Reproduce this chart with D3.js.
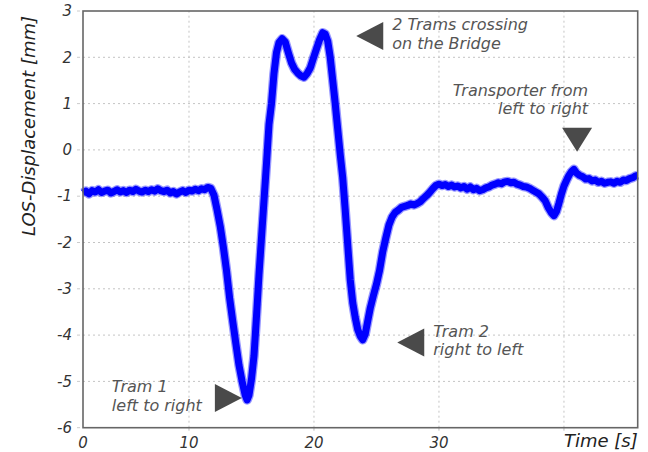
<!DOCTYPE html>
<html>
<head>
<meta charset="utf-8">
<script src="https://cdn.jsdelivr.net/npm/d3@7"></script>
<style>
  body { margin: 0; background: #fff; }
  text { font-family: "DejaVu Sans", sans-serif; font-style: italic; }
</style>
</head>
<body>
<svg width="648" height="452"></svg>
<script>
// measured signal (LOS displacement vs time)
var time = [1.52, 1.75, 2.0, 2.25, 2.5, 2.75, 3.0, 3.25, 3.5, 3.75, 4.0, 4.25, 4.5, 4.75, 5.0, 5.25, 5.5, 5.75,
    6.0, 6.25, 6.5, 6.75, 7.0, 7.25, 7.5, 7.75, 8.0, 8.25, 8.5, 8.75, 9.0, 9.25, 9.5, 9.75, 10.0, 10.25, 10.5,
    10.75, 11.0, 11.25, 11.5, 11.75, 12.0, 12.25, 12.5, 12.75, 13.0, 13.25, 13.5, 13.75, 14.0, 14.25, 14.5,
    14.65, 14.8, 15.0, 15.2, 15.4, 15.6, 15.8, 16.0, 16.2, 16.4, 16.6, 16.8, 17.0, 17.2, 17.45, 17.7, 17.95,
    18.2, 18.45, 18.7, 18.95, 19.2, 19.45, 19.7, 19.95, 20.2, 20.45, 20.7, 20.9, 21.1, 21.3, 21.5, 21.7, 21.9,
    22.1, 22.3, 22.5, 22.7, 22.9, 23.1, 23.3, 23.5, 23.7, 23.9, 24.1, 24.3, 24.5, 24.75, 25.0, 25.25, 25.5,
    25.75, 26.0, 26.25, 26.5, 26.75, 27.0, 27.25, 27.5, 27.75, 28.0, 28.25, 28.5, 28.75, 29.0, 29.25, 29.5,
    29.75, 30.0, 30.25, 30.5, 30.75, 31.0, 31.25, 31.5, 31.75, 32.0, 32.25, 32.5, 32.75, 33.0, 33.25, 33.5,
    33.75, 34.0, 34.25, 34.5, 34.75, 35.0, 35.25, 35.5, 35.75, 36.0, 36.25, 36.5, 36.75, 37.0, 37.25, 37.5,
    37.75, 38.0, 38.25, 38.5, 38.75, 39.0, 39.2, 39.4, 39.6, 39.8, 40.0, 40.2, 40.4, 40.6, 40.8, 41.0, 41.25,
    41.5, 41.75, 42.0, 42.25, 42.5, 42.75, 43.0, 43.25, 43.5, 43.75, 44.0, 44.25, 44.5, 44.75, 45.0, 45.25,
    45.5, 45.75, 45.9];
var displacement = [-0.93, -0.89, -0.95, -0.88, -0.91, -0.86, -0.92, -0.89, -0.87, -0.93, -0.9, -0.86, -0.91,
    -0.88, -0.92, -0.87, -0.9, -0.85, -0.89, -0.91, -0.87, -0.9, -0.86, -0.89, -0.84, -0.88, -0.9, -0.87, -0.93,
    -0.9, -0.95, -0.91, -0.88, -0.92, -0.87, -0.89, -0.85, -0.88, -0.84, -0.86, -0.81, -0.83, -0.98, -1.3,
    -1.65, -2.1, -2.6, -3.2, -3.7, -4.18, -4.65, -5.0, -5.3, -5.4, -5.3, -4.95, -4.45, -3.6, -2.7, -1.9, -1.1,
    -0.3, 0.55, 1.0, 1.65, 2.1, 2.32, 2.4, 2.33, 2.1, 1.88, 1.74, 1.66, 1.6, 1.57, 1.65, 1.77, 1.98, 2.18, 2.38,
    2.53, 2.5, 2.35, 2.0, 1.5, 1.0, 0.45, -0.1, -0.6, -1.3, -2.05, -2.8, -3.3, -3.62, -3.88, -4.02, -4.1, -3.98,
    -3.7, -3.42, -3.15, -2.9, -2.6, -2.2, -1.9, -1.62, -1.45, -1.35, -1.3, -1.24, -1.22, -1.2, -1.17, -1.19,
    -1.16, -1.12, -1.05, -0.99, -0.92, -0.84, -0.77, -0.74, -0.77, -0.75, -0.79, -0.76, -0.8, -0.78, -0.82,
    -0.79, -0.85, -0.8, -0.86, -0.83, -0.88, -0.86, -0.82, -0.8, -0.76, -0.74, -0.71, -0.73, -0.69, -0.68,
    -0.71, -0.7, -0.74, -0.76, -0.79, -0.8, -0.83, -0.87, -0.91, -0.95, -1.02, -1.1, -1.25, -1.36, -1.42,
    -1.33, -1.15, -0.95, -0.78, -0.66, -0.55, -0.47, -0.42, -0.5, -0.55, -0.58, -0.63, -0.62, -0.67, -0.65,
    -0.7, -0.68, -0.72, -0.7, -0.69, -0.72, -0.68, -0.7, -0.65, -0.66, -0.62, -0.6, -0.56, -0.55];

var xDomain = [1.52, 45.9];
var yDomain = [-6, 3];
var xGrid = [10, 20, 30, 40];
var xLabelValues = [1.52, 10, 20, 30];
var xLabelText = ["0", "10", "20", "30"];
var yTicks = [-6, -5, -4, -3, -2, -1, 0, 1, 2, 3];

// annotations: tip of the arrow in data units
var annTime = [14.23, 26.66, 23.38, 41.05];
var annValue = [-5.36, -4.16, 2.46, -0.04];
var annDir = ["right", "left", "left", "down"];
var annText = [["Tram 1", "left to right"], ["Tram 2", "right to left"],
    ["2 Trams crossing", "on the Bridge"], ["Transporter from", "left to right"]];

var svg = d3.select("svg"),
    margin = {top: 11, right: 10.3, bottom: 24.3, left: 83},
    width = +svg.attr("width") - margin.left - margin.right,
    height = +svg.attr("height") - margin.top - margin.bottom;

var x = d3.scaleLinear().domain(xDomain).range([margin.left, margin.left + width]);
var y = d3.scaleLinear().domain(yDomain).range([margin.top + height, margin.top]);

// grid
svg.append("g").selectAll("line").data(xGrid).enter().append("line")
    .attr("x1", function(d) { return x(d); }).attr("x2", function(d) { return x(d); })
    .attr("y1", y(yDomain[0])).attr("y2", y(yDomain[1]))
    .attr("stroke", "#c4c4c4").attr("stroke-dasharray", "2,3");
svg.append("g").selectAll("line").data(yTicks.slice(1, -1)).enter().append("line")
    .attr("y1", function(d) { return y(d); }).attr("y2", function(d) { return y(d); })
    .attr("x1", x(xDomain[0])).attr("x2", x(xDomain[1]))
    .attr("stroke", "#c4c4c4").attr("stroke-dasharray", "2,3");

// small ticks
svg.append("g").selectAll("line").data(yTicks).enter().append("line")
    .attr("x1", x(xDomain[0]) - 6).attr("x2", x(xDomain[0]) - 3)
    .attr("y1", function(d) { return y(d); }).attr("y2", function(d) { return y(d); })
    .attr("stroke", "#ccc");
svg.append("g").selectAll("line").data(xGrid).enter().append("line")
    .attr("x1", function(d) { return x(d); }).attr("x2", function(d) { return x(d); })
    .attr("y1", y(yDomain[0])).attr("y2", y(yDomain[0]) + 3)
    .attr("stroke", "#bbb");

// the signal, soft edge underneath a solid core
var pts = time.map(function(t, i) { return [t, displacement[i]]; });
var line = d3.line().x(function(d) { return x(d[0]); }).y(function(d) { return y(d[1]); });
svg.append("path").datum(pts).attr("d", line)
    .attr("fill", "none").attr("stroke", "#1a1aff").attr("stroke-opacity", 0.45)
    .attr("stroke-width", 9.5).attr("stroke-linejoin", "round");
svg.append("path").datum(pts).attr("d", line)
    .attr("fill", "none").attr("stroke", "#0000ff")
    .attr("stroke-width", 7).attr("stroke-linejoin", "round");

// frame
svg.append("rect")
    .attr("x", x(xDomain[0])).attr("y", y(yDomain[1]))
    .attr("width", width).attr("height", height)
    .attr("fill", "none").attr("stroke", "#666").attr("stroke-width", 1.6);

// tick labels
svg.append("g").selectAll("text").data(yTicks).enter().append("text")
    .attr("x", x(xDomain[0]) - 11).attr("y", function(d) { return y(d); })
    .attr("dy", "0.35em").attr("text-anchor", "end")
    .attr("font-size", 15).attr("fill", "#333")
    .text(function(d) { return d; });
svg.append("g").selectAll("text").data(xLabelValues).enter().append("text")
    .attr("x", function(d) { return x(d); }).attr("y", 448)
    .attr("text-anchor", "middle").attr("font-size", 15).attr("fill", "#333")
    .text(function(d, i) { return xLabelText[i]; });

// axis titles
svg.append("text")
    .attr("transform", "translate(35," + (margin.top + 115) + ") rotate(-90)")
    .attr("text-anchor", "middle").attr("font-size", 18).attr("fill", "#222")
    .text("LOS-Displacement [mm]");
svg.append("text")
    .attr("x", x(xDomain[1])).attr("y", 447)
    .attr("text-anchor", "end").attr("font-size", 18).attr("fill", "#222")
    .text("Time [s]");

// annotations
var textOffset = {
    right: {dx: -130, dy: -6, anchor: "start"},
    left: {dx: 36, dy: -6, anchor: "start"},
    down: {dx: 11, dy: -56, anchor: "end"}
};
function triangle(tx, ty, dir) {
    var l = 27, h = 14;
    if (dir == "right") return [[tx - l, ty - h], [tx, ty], [tx - l, ty + h]];
    if (dir == "left") return [[tx + l, ty - h], [tx, ty], [tx + l, ty + h]];
    return [[tx - 15, ty - 24], [tx, ty], [tx + 15, ty - 24]];
}
annTime.forEach(function(t, i) {
    var tx = x(t), ty = y(annValue[i]), dir = annDir[i], off = textOffset[dir];
    svg.append("path")
        .attr("d", "M" + triangle(tx, ty, dir).join("L") + "Z")
        .attr("fill", "#4a4a4a");
    var txt = svg.append("text")
        .attr("text-anchor", off.anchor).attr("font-size", 16).attr("fill", "#555");
    annText[i].forEach(function(s, j) {
        txt.append("tspan").attr("x", tx + off.dx).attr("y", ty + off.dy + j * 18.5).text(s);
    });
});
</script>
</body>
</html>
